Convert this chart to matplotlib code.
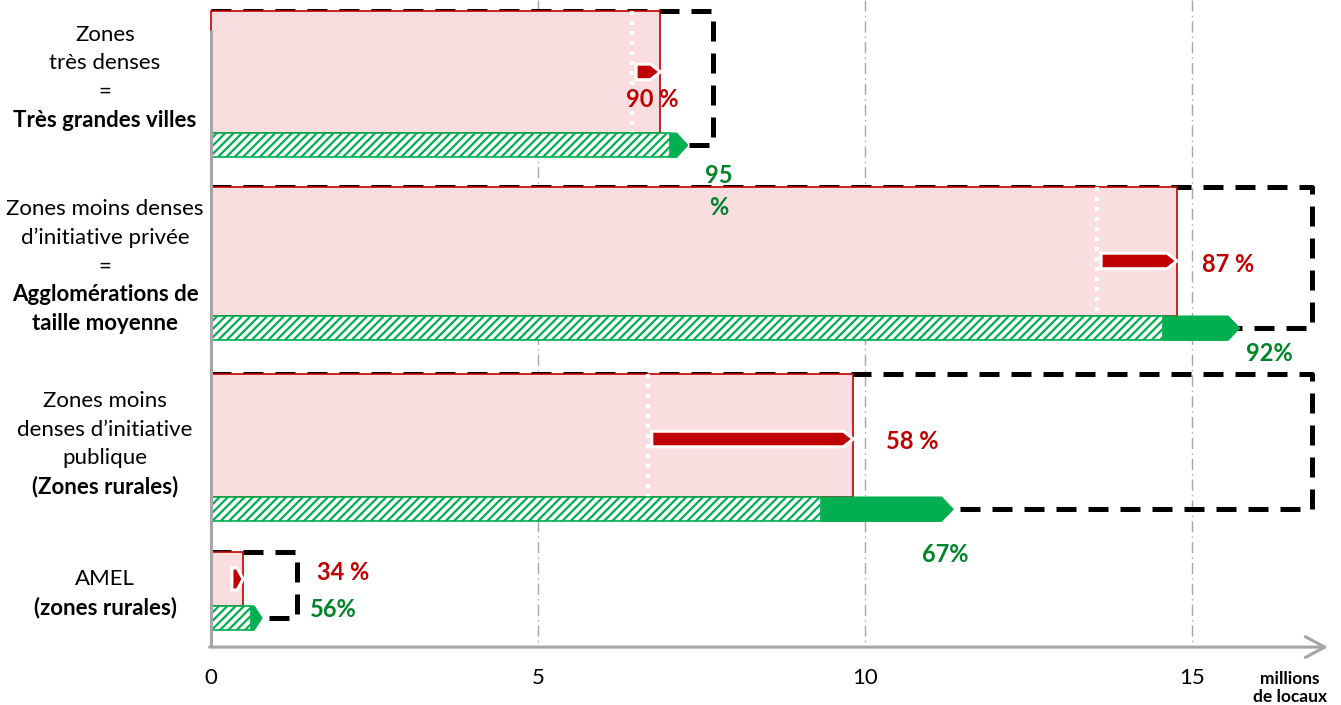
import matplotlib.pyplot as plt

plt.rcParams['font.family'] = ['Lato', 'DejaVu Sans']
plt.rcParams['hatch.linewidth'] = 1.6

# data (millions de locaux)
zones = [
    [("Zones", False), ("très denses", False), ("=", False), ("Très grandes villes", True)],
    [("Zones moins denses", False), ("d’initiative privée", False), ("=", False),
     ("Agglomérations de", True), ("taille moyenne", True)],
    [("Zones moins", False), ("denses d’initiative", False), ("publique", False), ("(Zones rurales)", True)],
    [("AMEL", False), ("(zones rurales)", True)],
]
total = [7.67, 16.83, 16.83, 1.31]      # dashed box: all locaux
before = [6.44, 13.55, 6.68, 0.26]      # white dotted line
covered = [6.87, 14.77, 9.82, 0.49]     # pink box
hatched = [7.02, 14.56, 9.33, 0.61]     # hatched green bar
target = [7.29, 15.73, 11.35, 0.78]     # tip of green arrow
pct_red = ["90 %", "87 %", "58 %", "34 %"]
pct_green = ["95\n%", "92%", "67%", "56%"]
ticks = [0, 5, 10, 15]

# layout
row_top = [0.06, 1.022, 2.044, 3.016]
pink_h = [0.667, 0.705, 0.672, 0.295]
bar_h = 0.133
arrow_y = [0.393, 1.426, 2.399, 3.164]
arrow_h = [0.085, 0.085, 0.085, 0.12]
red_tip = [0.15, 0.15, 0.15, 0.09]
green_tip = [0.17, 0.18, 0.18, 0.12]
label_mid = [0.423, 1.456, 2.426, 3.240]
red_pos = [(6.74, 0.546), (15.55, 1.443), (10.73, 2.415), (2.02, 3.126)]
green_pos = [(7.77, 1.045), (16.19, 1.93), (11.22, 3.03), (1.87, 3.33)]
axis_y = 3.536

RED = '#C00000'
PINK = '#FADEDF'
GREEN = '#00B050'
GREEN_TXT = '#00842A'
GREY = '#A6A6A6'

fig = plt.figure(figsize=(13.41, 7.05), dpi=100)
ax = fig.add_axes([0, 0, 1, 1])
ax.set_xlim(-211 / 65.4, (1341 - 211) / 65.4)
ax.set_ylim(705 / 183, 0)
ax.axis('off')

# grid
for t in ticks[1:]:
    ax.plot([t, t], [0, axis_y], color=GREY, lw=1, ls=(0, (8, 3, 1, 3)), zorder=0)

for i in range(len(zones)):
    top = row_top[i]
    gy = top + pink_h[i] + bar_h / 2
    # dashed target box (open on the axis side)
    ax.plot([0, total[i], total[i], 0], [top, top, gy, gy], color='black', lw=3.6,
            ls=(0, (4, 2.4)), solid_joinstyle='round', zorder=1)
    # pink box
    ax.barh(top + pink_h[i] / 2, covered[i], height=pink_h[i], left=0, color=PINK,
            edgecolor=RED, lw=1.2, zorder=2)
    # white dotted line
    if i < 3:
        ax.plot([before[i], before[i]], [top, top + pink_h[i]], color='white', lw=3,
                ls=(0, (1, 1.4)), solid_capstyle='butt', zorder=3)
    # red arrow
    y, h, tip = arrow_y[i], arrow_h[i] / 2, red_tip[i]
    x0, x1 = before[i] + 0.06, covered[i]
    ax.fill([x0, x1 - tip, x1, x1 - tip, x0], [y - h, y - h, y, y + h, y + h],
            fc=RED, ec='white', lw=2.2, zorder=4)
    # green bar
    gb, gt = gy - bar_h / 2, gy + bar_h / 2
    g0, g1, gtip = hatched[i], target[i], green_tip[i]
    ax.fill([g0, g1 - gtip, g1, g1 - gtip, g0], [gb, gb, gy, gt, gt], fc=GREEN, ec=GREEN,
            lw=0.8, zorder=4)
    ax.barh(gy, hatched[i], height=bar_h, left=0, color='white', edgecolor=GREEN,
            hatch='////', lw=1.2, zorder=5)
    # percentages
    ax.text(*red_pos[i], pct_red[i], color=RED, fontsize=17, fontweight='bold',
            ha='center', va='center', zorder=6)
    ax.text(*green_pos[i], pct_green[i], color=GREEN_TXT, fontsize=17, fontweight='bold',
            ha='center', va='center', linespacing=1.45, zorder=6)
    # zone labels
    n = len(zones[i])
    for k, (line, bold) in enumerate(zones[i]):
        ax.text(-1.62, label_mid[i] + (k - (n - 1) / 2) * 0.156, line, fontsize=16,
                fontweight='bold' if bold else 'normal', ha='center', va='center')

# axes
ax.plot([0, 0], [30 / 183, axis_y], color=GREY, lw=2.2, solid_capstyle='butt', zorder=6)
ax.annotate('', xy=(1328 / 65.4 - 211 / 65.4, axis_y), xytext=(-0.02, axis_y),
            arrowprops=dict(arrowstyle='->,head_length=1.4,head_width=0.75', color=GREY,
                            lw=2.2, shrinkA=0, shrinkB=0), zorder=6)
for t in ticks:
    ax.text(t, 678 / 183, str(t), fontsize=16, ha='center', va='center')
ax.text(16.5, 688 / 183, "millions\nde locaux", fontsize=12.5, fontweight='bold',
        ha='center', va='center', linespacing=1.1)

fig.savefig('out.png', dpi=100)
